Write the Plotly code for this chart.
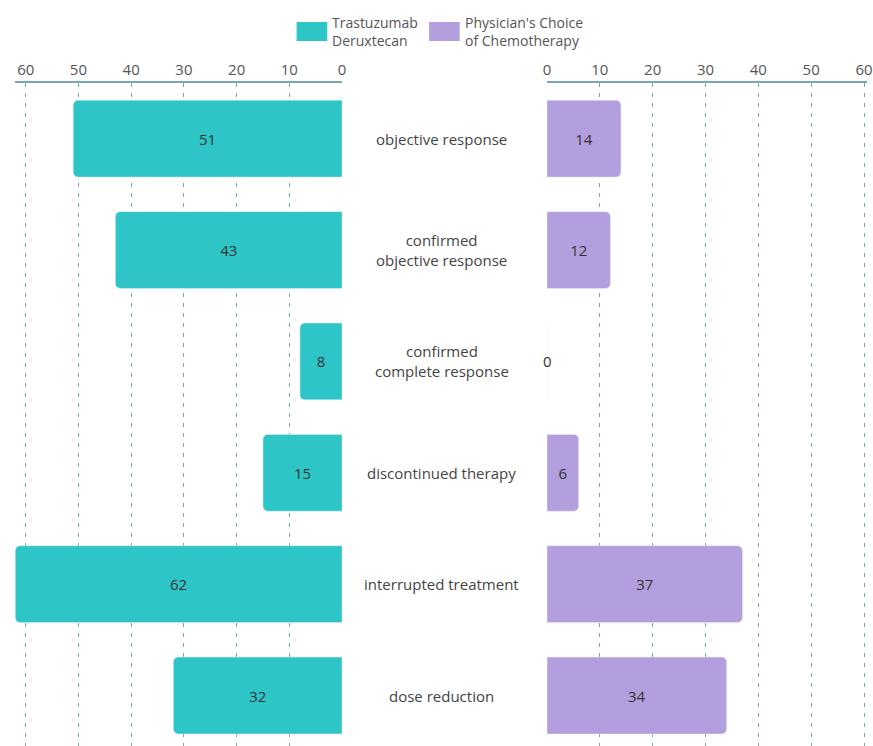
import plotly.graph_objects as go

categories = ["objective response", "confirmed<br>objective response", "confirmed<br>complete response",
              "discontinued therapy", "interrupted treatment", "dose reduction"]
trastuzumab = [51, 43, 8, 15, 62, 32]
chemo = [14, 12, 0, 6, 37, 34]
series_names = ["Trastuzumab<br>Deruxtecan", "Physician's Choice<br>of Chemotherapy"]
tick_vals = [0, 10, 20, 30, 40, 50, 60]
left_max = 62
right_max = 60.56

TEAL = "#2EC5C7"
PURPLE = "#B39FDE"
GRID = "#7AA8AD"
FONT = "Open Sans"

W, H = 873, 746
TOP = 83


def px(x):
    return x / W


def py(y):
    return 1 - (y - TOP) / (H - TOP)


fig = go.Figure()
fig.add_trace(go.Bar(
    y=categories, x=trastuzumab, orientation="h", name=series_names[0],
    marker=dict(color=TEAL, cornerradius=5), width=0.69,
    text=trastuzumab, textposition="inside", insidetextanchor="middle",
    textfont=dict(color="#333", size=15, family=FONT), xaxis="x", yaxis="y",
    hoverinfo="x+y", showlegend=False))
fig.add_trace(go.Bar(
    y=categories, x=chemo, orientation="h", name=series_names[1],
    marker=dict(color=PURPLE, cornerradius=5), width=0.69,
    text=[v if v > 0 else "" for v in chemo], textposition="inside", insidetextanchor="middle",
    textfont=dict(color="#333", size=15, family=FONT), xaxis="x2", yaxis="y2",
    hoverinfo="x+y", showlegend=False))

# labels for zero-length bars
for c, v in zip(categories, chemo):
    if v == 0:
        fig.add_annotation(x=v, xref="x2", y=c, yref="y2", text=str(v), showarrow=False,
                           xanchor="center", font=dict(size=15, color="#333", family=FONT))

for c in categories:
    fig.add_annotation(x=px(443), xref="paper", y=c, yref="y", text=c, showarrow=False,
                       font=dict(size=15, color="#444", family=FONT), xanchor="center")

# manual legend (rounded swatches)
legend_items = [(series_names[0], TEAL, 296), (series_names[1], PURPLE, 430)]
for name, col, x0 in legend_items:
    fig.add_shape(type="rect", xref="paper", yref="paper",
                  x0=px(x0), x1=px(x0 + 31), y0=py(41), y1=py(22),
                  fillcolor=col, line=dict(width=0), layer="above")
    fig.add_annotation(x=px(x0 + 34), y=py(31), xref="paper", yref="paper", text=name,
                       showarrow=False, xanchor="left", yanchor="middle", align="left",
                       font=dict(size=14, color="#555", family=FONT))

axis_common = dict(side="top", tickvals=tick_vals, showgrid=True, gridcolor=GRID, griddash="4px,6px",
                   gridwidth=1, zeroline=False, showline=True, linecolor=GRID, linewidth=1.5,
                   tickfont=dict(size=15, color="#555", family=FONT), ticks="", fixedrange=True,
                   ticklabeloverflow="allow")

n = len(categories)
fig.update_layout(
    width=W, height=H,
    margin=dict(l=0, r=0, t=TOP, b=0),
    plot_bgcolor="white", paper_bgcolor="white",
    font=dict(family=FONT),
    barmode="overlay",
    xaxis=dict(domain=[px(11.3), px(342)], range=[left_max, 0],
               minor=dict(tickmode="array", tickvals=[left_max], showgrid=True,
                          gridcolor=GRID, griddash="4px,6px"),
               anchor="y", **axis_common),
    xaxis2=dict(domain=[px(549.3), 1], range=[0, right_max], anchor="y2", **axis_common),
    yaxis=dict(domain=[0, 1], range=[n - 1 + 0.453, -0.5], showticklabels=False, showgrid=False,
               zeroline=False, fixedrange=True),
    yaxis2=dict(domain=[0, 1], matches="y", anchor="x2", showticklabels=False, showgrid=False,
                zeroline=False, fixedrange=True),
    showlegend=False,
)

fig.write_html("out.html", config={"displayModeBar": False},
               post_script="document.body.style.margin='0';document.body.style.overflow='hidden';")
